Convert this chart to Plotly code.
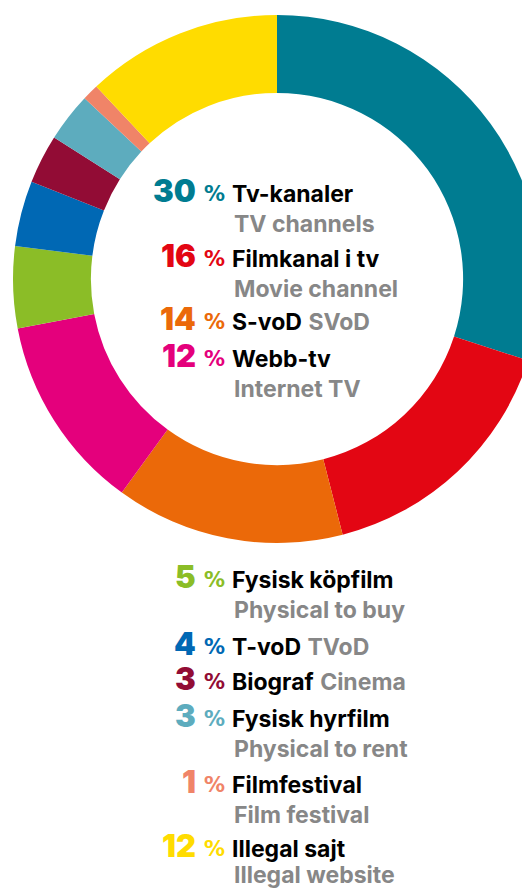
import plotly.graph_objects as go

# ---- data ----
labels_sv = ["Tv-kanaler", "Filmkanal i tv", "S-voD", "Webb-tv", "Fysisk köpfilm",
             "T-voD", "Biograf", "Fysisk hyrfilm", "Filmfestival", "Illegal sajt"]
labels_en = ["TV channels", "Movie channel", "SVoD", "Internet TV", "Physical to buy",
             "TVoD", "Cinema", "Physical to rent", "Film festival", "Illegal website"]
shares = [30, 16, 14, 12, 5, 4, 3, 3, 1, 12]

# ---- style ----
colors = ["#007C91", "#E30613", "#EB6909", "#E4007C", "#8BBD27",
          "#0068B4", "#920C35", "#5DACBE", "#F08468", "#FFDC00"]
GRAY = "#878787"
FONT = "Inter"
PCT_FONT = "DejaVu Sans"

# ---- layout (screen pixels; page body adds an 8px margin) ----
OFF = 8
W, H = 560, 890
SCREEN_H = 890
cx, cy, R = 277, 279, 264
baselines = [202, 267, 330, 367, 588, 655, 690, 727, 793, 857]
inline_en = [False, False, True, False, False, True, True, False, False, False]
LINE2 = 30
NUM_SIZE, PCT_SIZE, LAB_SIZE = 31, 21, 23
NUM_RIGHT, PCT_LEFT, LAB_LEFT, EN_LEFT = 198, 202, 230, 232


def px(x):
    return (x - OFF) / W


def py(y):
    return 1 - (y - OFF) / H


fig = go.Figure()
fig.add_trace(go.Pie(
    values=shares,
    labels=labels_sv,
    marker=dict(colors=colors, line=dict(width=0)),
    hole=0.705,
    sort=False,
    direction="clockwise",
    rotation=0,
    textinfo="none",
    hoverinfo="label+percent",
    showlegend=False,
    domain=dict(x=[px(cx - R), px(cx + R)], y=[py(cy + R), py(cy - R)]),
))

ann = []
for i, (v, sv, en) in enumerate(zip(shares, labels_sv, labels_en)):
    b = baselines[i]
    ann.append(dict(x=px(NUM_RIGHT), y=py(b - 0.36 * NUM_SIZE), xanchor="right", yanchor="middle",
                    text=f"{v}", font=dict(family=FONT, size=NUM_SIZE, color=colors[i], weight=900)))
    ann.append(dict(x=px(PCT_LEFT), y=py(b - 0.36 * PCT_SIZE), xanchor="left", yanchor="middle",
                    text="<b>%</b>", font=dict(family=PCT_FONT, size=PCT_SIZE, color=colors[i])))
    if inline_en[i]:
        txt = f"<b>{sv}</b> <span style='color:{GRAY}'><b>{en}</b></span>"
    else:
        txt = f"<b>{sv}</b>"
        b2 = min(b + LINE2, SCREEN_H - 7)
        ann.append(dict(x=px(EN_LEFT), y=py(b2 - 0.36 * LAB_SIZE), xanchor="left", yanchor="middle",
                        text=f"<b>{en}</b>", font=dict(family=FONT, size=LAB_SIZE, color=GRAY)))
    ann.append(dict(x=px(LAB_LEFT), y=py(b - 0.36 * LAB_SIZE), xanchor="left", yanchor="middle",
                    text=txt, font=dict(family=FONT, size=LAB_SIZE, color="#000000")))

for a in ann:
    a.update(xref="paper", yref="paper", showarrow=False)

fig.update_layout(
    width=W, height=H,
    margin=dict(l=0, r=0, t=0, b=0),
    paper_bgcolor="white", plot_bgcolor="white",
    annotations=ann,
)

fig.write_html("out.html")
